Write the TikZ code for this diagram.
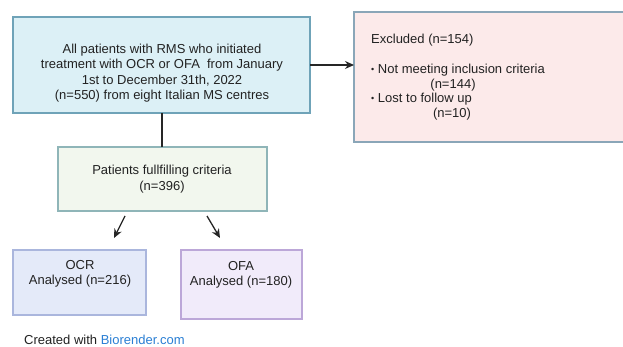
\documentclass[tikz,border=0pt]{standalone}
\usepackage{fontspec}
\setmainfont{Liberation Sans}
\usetikzlibrary{arrows.meta}
\definecolor{mainfill}{HTML}{DCF0F6}
\definecolor{mainline}{HTML}{6FA3B8}
\definecolor{exfill}{HTML}{FCEAEA}
\definecolor{exline}{HTML}{8AA6B8}
\definecolor{grfill}{HTML}{F2F7EE}
\definecolor{grline}{HTML}{8FB5B8}
\definecolor{ocrfill}{HTML}{E4EAF9}
\definecolor{ocrline}{HTML}{AAB6DD}
\definecolor{ofafill}{HTML}{F1EBFA}
\definecolor{ofaline}{HTML}{BCA7D8}
\definecolor{txt}{HTML}{222222}
\definecolor{linkblue}{HTML}{2A7FD4}
\newcommand{\bul}{{\fontsize{9}{9}\selectfont\raisebox{0.8pt}{\textbullet}}}
\tikzset{
  x=1pt,y=-1pt,
  boxstyle/.style={draw, line width=1.2pt},
  txtstyle/.style={text=txt, font=\fontsize{13}{15.3}\selectfont, inner sep=0pt},
  conn/.style={draw=black!85, line width=1.3pt},
  arr/.style={conn, -{Stealth[length=9pt,width=8pt]}}
}
\begin{document}
\begin{tikzpicture}
\useasboundingbox (0,0) rectangle (623,347);
\fill[white] (0,0) rectangle (623,347);
% boxes
\path[boxstyle, draw=mainline, fill=mainfill] (13,17) rectangle (310,113);
\coordinate (mainR) at (310,65);
\coordinate (mainB) at (162,113);
\path[boxstyle, draw=exline, fill=exfill] (354,12) rectangle (630,142);
\coordinate (exL) at (354,65);
\path[boxstyle, draw=grline, fill=grfill] (58,147) rectangle (267,211);
\coordinate (grT) at (162,147);
\path[boxstyle, draw=ocrline, fill=ocrfill] (13,250) rectangle (146,315);
\path[boxstyle, draw=ofaline, fill=ofafill] (181,250) rectangle (302,319);
% texts
\node[txtstyle, align=center] (main) at (162,73) {All patients with RMS who initiated\\treatment with OCR or OFA\ \ from January\\1st to December 31th, 2022\\(n=550) from eight Italian MS centres};
\node[txtstyle, anchor=west] (ex1) at (371,40) {Excluded (n=154)};
\node[txtstyle, anchor=west] (ex2) at (371,70) {\bul\ Not meeting inclusion criteria};
\node[txtstyle] (ex3) at (453,85) {(n=144)};
\node[txtstyle, anchor=west] (ex4) at (371,99) {\bul\ Lost to follow up};
\node[txtstyle] (ex5) at (452,114) {(n=10)};
\node[txtstyle, align=center] (gr) at (162,179) {Patients fullfilling criteria\\(n=396)};
\node[txtstyle, align=center] (ocr) at (80,274) {OCR\\Analysed (n=216)};
\node[txtstyle, align=center] (ofa) at (241,275) {OFA\\Analysed (n=180)};
\node[txtstyle, anchor=west] (credit) at (24,340) {Created with \textcolor{linkblue}{Biorender.com}};
% connectors
\coordinate (a1s) at (125,216); \coordinate (a1e) at (114,238);
\coordinate (a2s) at (207,216); \coordinate (a2e) at (220,238);
\draw[arr] (mainR) -- (exL);
\draw[conn] (mainB) -- (grT);
\draw[arr] (a1s) -- (a1e);
\draw[arr] (a2s) -- (a2e);
\end{tikzpicture}
\end{document}
